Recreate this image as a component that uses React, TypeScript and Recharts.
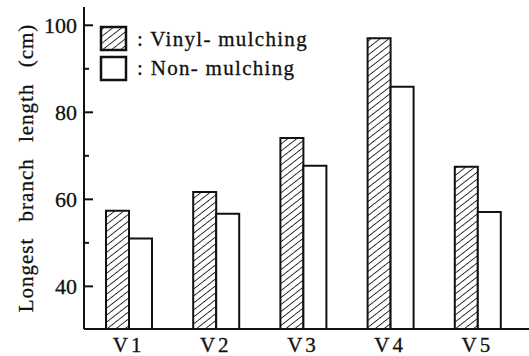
import { Bar, BarChart, Legend, XAxis, YAxis } from 'recharts'

const CATEGORIES = ['V1', 'V2', 'V3', 'V4', 'V5']
const VINYL = [57.4, 61.7, 74.1, 97.0, 67.5]
const NON = [51.0, 56.7, 67.7, 85.9, 57.1]
const Y_TICKS = [40, 50, 60, 70, 80, 90, 100]
const Y_LABELED = [40, 60, 80, 100]

const FONT = "'Liberation Serif', 'Times New Roman', Times, serif"
const INK = '#111'

const data = CATEGORIES.map((name, i) => ({ name, vinyl: VINYL[i], non: NON[i] }))

function HatchDef({ id }: { id: string }) {
  return (
    <pattern id={id} patternUnits="userSpaceOnUse" width={5.5} height={5.5} patternTransform="rotate(52)">
      <rect width={5.5} height={5.5} fill="#fff" />
      <line x1={0} y1={0} x2={0} y2={5.5} stroke={INK} strokeWidth={1.7} />
    </pattern>
  )
}

function YTick(props: any) {
  const { x, y, payload } = props
  const major = Y_LABELED.includes(payload.value)
  return (
    <g>
      <line x1={x + 7} y1={y} x2={x + 7 + (major ? 9 : 5)} y2={y} stroke={INK} strokeWidth={2} />
      {major && (
        <text
          x={x}
          y={y}
          dy="0.36em"
          textAnchor="end"
          fill={INK}
          stroke={INK}
          strokeWidth={0.3}
          style={{ fontFamily: FONT, fontSize: 22 }}
        >
          {payload.value}
        </text>
      )}
    </g>
  )
}

function LegendBox() {
  const text = {
    fill: INK,
    stroke: INK,
    strokeWidth: 0.3,
    style: { fontFamily: FONT, fontSize: 21, letterSpacing: 1.3 },
  }
  return (
    <svg width={230} height={62} style={{ display: 'block' }}>
      <defs>
        <HatchDef id="hatch-legend" />
      </defs>
      <rect x={2} y={3} width={25} height={23} fill="url(#hatch-legend)" stroke={INK} strokeWidth={2.5} />
      <text x={38} y={22} {...text}>: Vinyl- mulching</text>
      <rect x={2} y={33} width={25} height={23} fill="#fff" stroke={INK} strokeWidth={2.5} />
      <text x={38} y={51} {...text}>: Non- mulching</text>
    </svg>
  )
}

function YLabel() {
  return (
    <text
      x={33}
      y={168}
      transform="rotate(-90, 33, 168)"
      textAnchor="middle"
      fill={INK}
      stroke={INK}
      strokeWidth={0.3}
      style={{ fontFamily: FONT, fontSize: 21, letterSpacing: 1, wordSpacing: 10 }}
    >
      Longest branch length (cm)
    </text>
  )
}

export default function App() {
  return (
    <div style={{ width: 529, height: 356, background: '#fff' }}>
      <style>{'body{margin:0}'}</style>
      <BarChart
        width={529}
        height={356}
        data={data}
        margin={{ top: 7, right: 0, left: 0, bottom: 0 }}
        barGap={0}
        barSize={23}
      >
        <defs>
          <HatchDef id="hatch-bar" />
        </defs>
        <XAxis
          dataKey="name"
          height={27}
          padding={{ left: 1, right: 8 }}
          axisLine={{ stroke: INK, strokeWidth: 2 }}
          tickLine={false}
          tickSize={0}
          tickMargin={8}
          tick={{ fill: INK, stroke: INK, strokeWidth: 0.3, fontSize: 21, fontFamily: FONT, letterSpacing: 3 }}
        />
        <YAxis
          type="number"
          width={84}
          domain={[30.2, 104.2]}
          ticks={Y_TICKS}
          interval={0}
          allowDataOverflow
          axisLine={{ stroke: INK, strokeWidth: 2 }}
          tickLine={false}
          tickSize={0}
          tickMargin={7}
          tick={<YTick />}
          label={<YLabel />}
        />
        <Legend
          layout="vertical"
          align="center"
          verticalAlign="middle"
          content={<LegendBox />}
          wrapperStyle={{ left: 99, top: 24, width: 230, height: 62 }}
        />
        <Bar dataKey="vinyl" fill="url(#hatch-bar)" stroke={INK} strokeWidth={2} isAnimationActive={false} />
        <Bar dataKey="non" fill="#fff" stroke={INK} strokeWidth={2} isAnimationActive={false} />
      </BarChart>
    </div>
  )
}
